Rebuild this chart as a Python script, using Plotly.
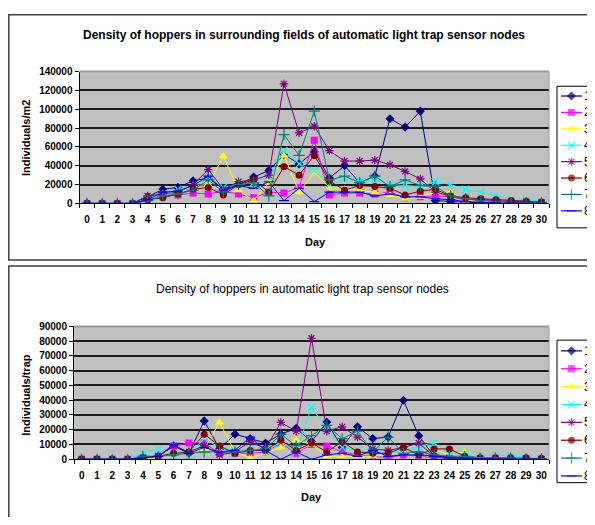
import plotly.graph_objects as go

days = list(range(31))
series_names = ["1", "2", "3", "4", "5", "6", "7", "8"]

# Top chart: density in surrounding fields (individuals/m2)
fields_1 = [0, 0, 0, 0, 7000, 15000, 17000, 24000, 27000, 15000, 20000, 28000, 35000, 52000, 42000, 55000, 27000, 40000, 22000, 29000, 90000, 81000, 98000, 3000, 2000, 1000, 500, 300, 200, 200, 100]
fields_2 = [0, 0, 0, 0, 3000, 8000, 9000, 11000, 10000, 13000, 10000, 6000, 12000, 11000, 17000, 67000, 9000, 11000, 11000, 10000, 12000, 6000, 7000, 8000, 7000, 4000, 3000, 2000, 1000, 1000, 500]
fields_3 = [0, 0, 0, 0, 0, 10000, 12000, 19000, 20000, 50000, 14000, 3000, 22000, 51000, 12000, 33000, 17000, 15000, 14000, 12000, 9000, 5000, 7000, 12000, 12000, 3000, 2000, 1000, 500, 0, 0]
fields_4 = [0, 0, 0, 0, 5000, 10000, 15000, 18000, 28000, 17000, 20000, 22000, 28000, 56000, 42000, 35000, 20000, 26000, 24000, 25000, 20000, 19000, 18000, 23000, 20000, 15000, 12000, 8000, 5000, 4000, 2000]
fields_5 = [0, 0, 0, 0, 8000, 10000, 12000, 20000, 36000, 15000, 23000, 25000, 30000, 127000, 75000, 82000, 56000, 45000, 45000, 46000, 41000, 34000, 26000, 12000, 8000, 5000, 4000, 3000, 2000, 2000, 1000]
fields_6 = [0, 0, 0, 0, 4000, 6000, 10000, 15000, 17000, 9000, 20000, 25000, 12000, 39000, 30000, 51000, 24000, 14000, 19000, 18000, 16000, 9000, 13000, 15000, 8000, 6000, 5000, 4000, 3000, 2000, 1500]
fields_7 = [0, 0, 0, 0, 3000, 8000, 10000, 14000, 25000, 12000, 20000, 22000, 8000, 73000, 51000, 98000, 25000, 29000, 22000, 29000, 18000, 25000, 19000, 18000, 8000, 5000, 3000, 2000, 1000, 1000, 500]
fields_8 = [0, 0, 0, 0, 4000, 12000, 13000, 19000, 29000, 14000, 19000, 16000, 23000, 3000, 16000, 2000, 12000, 12000, 12000, 8000, 10000, 7000, 7000, 5000, 4000, 2000, 1000, 500, 300, 200, 100]

# Bottom chart: density in light trap sensor nodes (individuals/trap)
trap_1 = [0, 0, 0, 0, 1000, 2000, 9000, 4000, 26000, 7000, 17000, 14000, 11000, 17000, 21000, 12000, 25000, 8000, 22000, 14000, 15000, 40000, 16000, 2000, 0, 1000, 500, 300, 200, 100, 100]
trap_2 = [0, 0, 0, 0, 1000, 2000, 9000, 11000, 11000, 4000, 4000, 4000, 5000, 11000, 4000, 10000, 9000, 5000, 3000, 2000, 1000, 3000, 2000, 1000, 1000, 1000, 500, 300, 200, 100, 100]
trap_3 = [0, 0, 0, 0, 0, 1000, 4000, 5000, 7000, 25000, 5000, 1000, 4000, 8000, 13000, 10000, 2000, 2000, 2000, 2000, 3000, 5000, 3000, 7000, 3000, 5000, 1000, 500, 500, 300, 0]
trap_4 = [0, 0, 0, 0, 4000, 7000, 4000, 3000, 14000, 8000, 6000, 7000, 5000, 12000, 5000, 35000, 21000, 8000, 6000, 5000, 4000, 5000, 9000, 11000, 4000, 4000, 2000, 3000, 2000, 1000, 500]
trap_5 = [0, 0, 0, 0, 1000, 2000, 9000, 5000, 9000, 3000, 5000, 12000, 7000, 25000, 19000, 82000, 19000, 22000, 15000, 7000, 6000, 8000, 11000, 2000, 1000, 1000, 500, 300, 300, 200, 100]
trap_6 = [0, 0, 0, 0, 1000, 2000, 4000, 5000, 17000, 9000, 4000, 6000, 6000, 13000, 6000, 11000, 5000, 12000, 5000, 4000, 4000, 8000, 3000, 7000, 7000, 2000, 1000, 1000, 1000, 1000, 500]
trap_7 = [0, 0, 0, 0, 2000, 2000, 3000, 4000, 5000, 5000, 5000, 6000, 7000, 17000, 9000, 16000, 23000, 14000, 19000, 5000, 15000, 4000, 5000, 3000, 2000, 2000, 1000, 1000, 1000, 500, 300]
trap_8 = [0, 0, 0, 0, 1000, 2000, 10000, 4000, 8000, 5000, 6000, 15000, 6000, 0, 5000, 0, 3000, 4000, 2000, 6000, 2000, 3000, 3000, 2000, 1000, 500, 300, 200, 100, 100, 0]

fields = [fields_1, fields_2, fields_3, fields_4, fields_5, fields_6, fields_7, fields_8]
traps = [trap_1, trap_2, trap_3, trap_4, trap_5, trap_6, trap_7, trap_8]

colors = ["#000080", "#FF00FF", "#FFFF00", "#00FFFF", "#800080", "#800000", "#008080", "#0000FF"]
symbols = ["diamond", "square", "triangle-up", "x-thin-open", "asterisk-open", "circle", "cross-thin-open", "line-ew-open"]
sizes = [7, 7, 8, 7, 7, 7, 8, 7]

# The page body has an 8px margin, so the figure is placed 8px in from the page corner.
# Keep the page from overflowing the 595x525 window.
OFF = 8
PAGE_W, PAGE_H = 595, 525
W, H = PAGE_W - OFF, PAGE_H - 2 * OFF
FONT = "Liberation Sans, Arial, sans-serif"

def px_x(p):  # page pixel -> paper x
    return (p - OFF) / W

def px_y(p):  # page pixel -> paper y
    return 1 - (p - OFF) / H

TOP = dict(x0=79.5, x1=549, y0=67, y1=202)
BOT = dict(x0=74, x1=549, y0=328, y1=464)

fig = go.Figure()

def marker_cfg(i):
    open_sym = symbols[i].endswith("open")
    return dict(symbol=symbols[i], size=sizes[i], color=colors[i],
                line=dict(color=colors[i], width=1.2 if open_sym else 0))

for i in range(8):
    fig.add_trace(go.Scatter(
        x=days, y=fields[i], name=series_names[i], mode="lines+markers",
        line=dict(color=colors[i], width=1), marker=marker_cfg(i),
        xaxis="x", yaxis="y", showlegend=False))

for i in range(8):
    fig.add_trace(go.Scatter(
        x=days, y=traps[i], name=series_names[i], mode="lines+markers",
        line=dict(color=colors[i], width=1), marker=marker_cfg(i),
        xaxis="x2", yaxis="y2", showlegend=False))

# Legend samples drawn on an overlay axis measured in page pixels
legend_sets = [(92.0, 16.8), (353.0, 18.3)]
for (y_first, step) in legend_sets:
    for i in range(8):
        yy = y_first + step * i
        fig.add_trace(go.Scatter(
            x=[561, 571.5, 582], y=[yy, yy, yy], mode="lines+markers",
            line=dict(color=colors[i], width=1.2),
            marker=dict(symbol=symbols[i], size=[0, sizes[i], 0], color=colors[i],
                        line=dict(color=colors[i], width=1.2 if symbols[i].endswith("open") else 0)),
            xaxis="x3", yaxis="y3", showlegend=False, hoverinfo="skip"))

tickfont = dict(family=FONT, size=10, color="black", weight="bold")

def xaxis_cfg(box, anchor):
    return dict(domain=[px_x(box["x0"]), px_x(box["x1"])], anchor=anchor, range=[-0.5, 30.5],
                tickmode="array", tickvals=days, ticktext=[str(d) for d in days],
                ticks="", showgrid=False, zeroline=False, ticklabelstandoff=7,
                showline=True, linecolor="black", linewidth=1,
                tickfont=tickfont,
                minor=dict(tickmode="array", tickvals=[d + 0.5 for d in range(-1, 31)],
                           ticks="outside", ticklen=4, tickcolor="black", showgrid=False))

def yaxis_cfg(box, anchor, top, step):
    return dict(domain=[px_y(box["y1"]), px_y(box["y0"])], anchor=anchor, range=[0, top], dtick=step,
                tickformat="d", showgrid=True, gridcolor="#1a1a1a", gridwidth=2,
                zeroline=False, showline=True, linecolor="black", linewidth=1,
                ticks="outside", ticklen=4, tickcolor="black", tickfont=tickfont)

fig.update_layout(
    width=W, height=H,
    margin=dict(l=0, r=0, t=0, b=0),
    paper_bgcolor="white", plot_bgcolor="rgba(0,0,0,0)",
    font=dict(family=FONT, color="black"),
    xaxis=xaxis_cfg(TOP, "y"),
    yaxis=yaxis_cfg(TOP, "x", 140000, 20000),
    xaxis2=xaxis_cfg(BOT, "y2"),
    yaxis2=yaxis_cfg(BOT, "x2", 90000, 10000),
    xaxis3=dict(domain=[0, 1], anchor="y3", range=[OFF, OFF + W], visible=False, fixedrange=True),
    yaxis3=dict(domain=[0, 1], anchor="x3", range=[OFF + H, OFF], visible=False, fixedrange=True),
    showlegend=False,
)

annotations = [
    dict(text="<b>Density of hoppers in surrounding fields of automatic light trap sensor nodes</b>",
         x=304, y=30, font=dict(size=12)),
    dict(text="Density of hoppers in automatic light trap sensor nodes",
         x=303, y=290, font=dict(size=12)),
    dict(text="<b>Individuals/m2</b>", x=26, y=135, textangle=-90, font=dict(size=11)),
    dict(text="<b>Individuals/trap</b>", x=26, y=398, textangle=-90, font=dict(size=11)),
    dict(text="<b>Day</b>", x=315, y=242, font=dict(size=11)),
    dict(text="<b>Day</b>", x=311, y=503, font=dict(size=11)),
]
for a in annotations:
    a.update(xanchor="center", yanchor="middle")
for (y_first, step) in legend_sets:
    for i in range(8):
        annotations.append(dict(text=series_names[i], x=582, y=y_first + step * i,
                                xanchor="left", yanchor="middle", font=dict(size=12)))
for a in annotations:
    a["x"] = px_x(a["x"])
    a["y"] = px_y(a["y"])
    a.update(xref="paper", yref="paper", showarrow=False)
    a["font"].update(family=FONT, color="black")
fig.update_layout(annotations=annotations)

def prect(x0, y0, x1, y1, **kw):
    return dict(type="rect", xref="paper", yref="paper",
                x0=px_x(x0), x1=px_x(x1), y0=px_y(y1), y1=px_y(y0), **kw)

def pline(x0, y0, x1, y1, **kw):
    return dict(type="line", xref="paper", yref="paper",
                x0=px_x(x0), x1=px_x(x1), y0=px_y(y0), y1=px_y(y1), **kw)

shapes = [
    # gray plot areas (beneath the gridlines and traces)
    prect(TOP["x0"], TOP["y0"], TOP["x1"], TOP["y1"], layer="below",
          fillcolor="#C0C0C0", line=dict(width=0)),
    prect(BOT["x0"], BOT["y0"], BOT["x1"], BOT["y1"], layer="below",
          fillcolor="#C0C0C0", line=dict(width=0)),
    # legend boxes
    prect(557, 82, 620, 227, layer="below", fillcolor="white", line=dict(color="black", width=1)),
    prect(557, 342, 620, 488, layer="below", fillcolor="white", line=dict(color="black", width=1)),
    # light plot-area border along top and right
    pline(TOP["x0"], TOP["y0"], TOP["x1"], TOP["y0"], line=dict(color="#9a9a9a", width=2)),
    pline(TOP["x1"], TOP["y0"], TOP["x1"], TOP["y1"], line=dict(color="#9a9a9a", width=1)),
    pline(BOT["x0"], BOT["y0"], BOT["x1"], BOT["y0"], line=dict(color="#9a9a9a", width=2)),
    pline(BOT["x1"], BOT["y0"], BOT["x1"], BOT["y1"], line=dict(color="#9a9a9a", width=1)),
    # outer frames of the two panels
    prect(8.8, 8.8, 620, 260, line=dict(color="#404040", width=1.5)),
    prect(8.8, 266, 620, 540, line=dict(color="#404040", width=1.5)),
]
fig.update_layout(shapes=shapes)

fig.write_html("out.html")
